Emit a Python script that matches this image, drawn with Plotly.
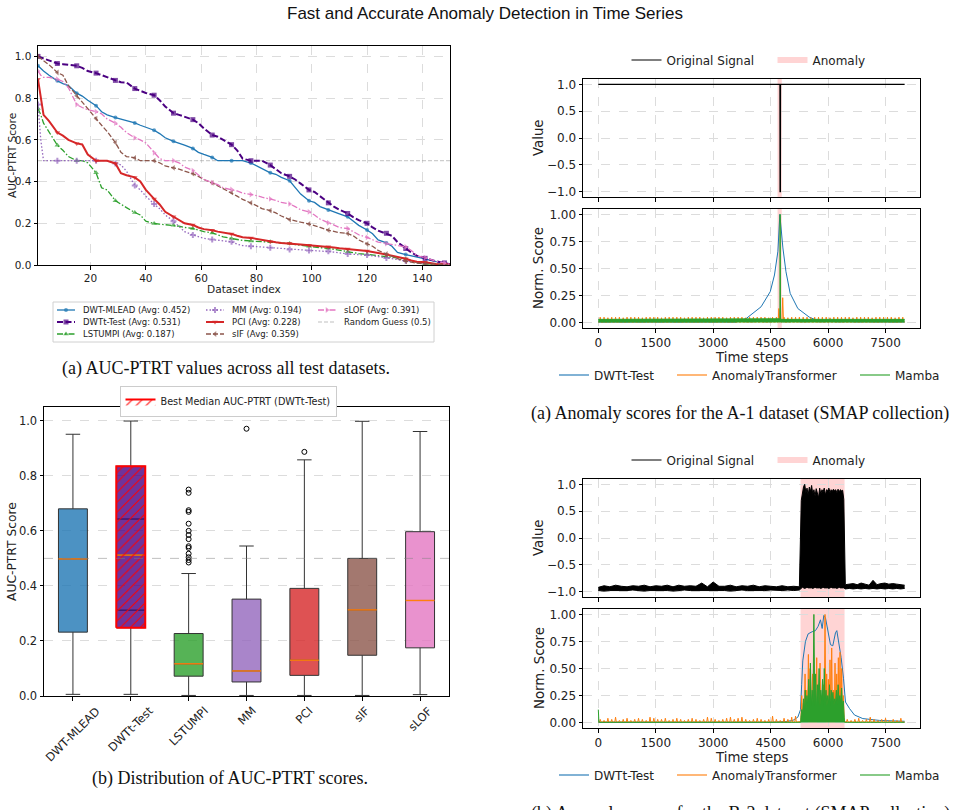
import numpy as np
import plotly.graph_objects as go

W, H = 954, 810
FONT = "DejaVu Sans"
SERIF = "Liberation Serif"


def fx(p):
    return p / W


def fy(p):
    return 1 - p / H


# ---------------------------------------------------------------- data (a) left
dataset_index = [1, 2, 3, 5, 8, 10, 12, 15, 17, 19, 22, 24, 26, 29, 31, 33, 36, 38, 40, 43, 45, 47,
                 50, 52, 54, 57, 59, 61, 64, 66, 68, 71, 73, 75, 78, 80, 82, 85, 87, 89, 92, 94, 96,
                 99, 101, 103, 106, 108, 110, 113, 115, 117, 120, 122, 124, 127, 129, 131, 134, 136,
                 138, 141, 143, 145, 148, 150]

auc_dwt_mlead = [0.955, 0.940, 0.930, 0.910,
                 0.883, 0.870, 0.860, 0.824, 0.810, 0.790, 0.764, 0.735, 0.720, 0.707, 0.700, 0.690,
                 0.681, 0.670, 0.660, 0.646, 0.630, 0.610, 0.593, 0.585, 0.575, 0.559, 0.540, 0.530,
                 0.516, 0.500, 0.500, 0.500, 0.500, 0.500, 0.489, 0.475, 0.460, 0.442, 0.435, 0.420,
                 0.404, 0.370, 0.340, 0.308, 0.300, 0.280, 0.264, 0.255, 0.245, 0.231, 0.210, 0.190,
                 0.168, 0.150, 0.120, 0.106, 0.090, 0.060, 0.050, 0.045, 0.040, 0.029, 0.022, 0.015,
                 0.008, 0.003]
auc_dwtt_test = [1.000, 0.995, 0.990, 0.980,
                 0.966, 0.963, 0.960, 0.955, 0.945, 0.930, 0.920, 0.910, 0.900, 0.885, 0.876, 0.875,
                 0.846, 0.835, 0.825, 0.814, 0.790, 0.760, 0.728, 0.720, 0.710, 0.697, 0.680, 0.655,
                 0.623, 0.615, 0.600, 0.577, 0.550, 0.510, 0.500, 0.500, 0.500, 0.479, 0.460, 0.440,
                 0.425, 0.410, 0.390, 0.360, 0.350, 0.330, 0.298, 0.280, 0.265, 0.247, 0.230, 0.215,
                 0.200, 0.180, 0.165, 0.152, 0.140, 0.110, 0.079, 0.060, 0.045, 0.032, 0.025, 0.018,
                 0.010, 0.003]
auc_lstumpi = [0.750, 0.720, 0.680, 0.640,
               0.574, 0.550, 0.520, 0.500, 0.500, 0.490, 0.442, 0.370, 0.360, 0.308, 0.290, 0.275,
               0.252, 0.240, 0.210, 0.199, 0.196, 0.194, 0.191, 0.186, 0.180, 0.175, 0.168, 0.160,
               0.154, 0.145, 0.135, 0.127, 0.122, 0.118, 0.115, 0.114, 0.113, 0.112, 0.108, 0.105,
               0.103, 0.098, 0.094, 0.090, 0.087, 0.083, 0.080, 0.075, 0.070, 0.064, 0.060, 0.055,
               0.051, 0.048, 0.044, 0.040, 0.036, 0.032, 0.029, 0.020, 0.012, 0.006, 0.004, 0.003,
               0.002, 0.001]
auc_mm = [0.770, 0.600, 0.500, 0.500,
          0.500, 0.500, 0.500, 0.500, 0.500, 0.500, 0.500, 0.500, 0.500, 0.487, 0.480, 0.450,
          0.381, 0.360, 0.330, 0.292, 0.270, 0.240, 0.210, 0.185, 0.160, 0.144, 0.135, 0.128,
          0.122, 0.118, 0.114, 0.111, 0.100, 0.093, 0.090, 0.088, 0.085, 0.083, 0.080, 0.077,
          0.074, 0.073, 0.072, 0.070, 0.069, 0.068, 0.066, 0.062, 0.058, 0.053, 0.051, 0.050,
          0.048, 0.044, 0.040, 0.034, 0.030, 0.025, 0.019, 0.015, 0.012, 0.010, 0.007, 0.005,
          0.003, 0.001]
auc_pci = [0.890, 0.800, 0.720, 0.690,
           0.635, 0.620, 0.600, 0.583, 0.578, 0.530, 0.500, 0.500, 0.500, 0.487, 0.440, 0.430,
           0.420, 0.400, 0.360, 0.317, 0.290, 0.255, 0.231, 0.215, 0.200, 0.192, 0.180, 0.172,
           0.167, 0.160, 0.155, 0.149, 0.140, 0.133, 0.130, 0.125, 0.118, 0.112, 0.109, 0.106,
           0.104, 0.101, 0.098, 0.095, 0.093, 0.090, 0.088, 0.084, 0.080, 0.077, 0.074, 0.070,
           0.067, 0.062, 0.056, 0.050, 0.045, 0.040, 0.030, 0.022, 0.016, 0.013, 0.008, 0.005,
           0.003, 0.001]
auc_sif = [1.000, 0.990, 0.980, 0.960,
           0.923, 0.910, 0.860, 0.811, 0.780, 0.750, 0.702, 0.670, 0.640, 0.587, 0.540, 0.520,
           0.514, 0.500, 0.500, 0.500, 0.490, 0.475, 0.466, 0.460, 0.450, 0.438, 0.425, 0.410,
           0.394, 0.380, 0.365, 0.348, 0.330, 0.315, 0.298, 0.285, 0.270, 0.261, 0.250, 0.235,
           0.218, 0.210, 0.205, 0.197, 0.190, 0.180, 0.167, 0.160, 0.155, 0.151, 0.140, 0.120,
           0.101, 0.090, 0.070, 0.053, 0.040, 0.030, 0.018, 0.012, 0.009, 0.006, 0.004, 0.003,
           0.002, 0.001]
auc_slof = [0.930, 0.910, 0.900, 0.900,
            0.891, 0.880, 0.850, 0.769, 0.755, 0.745, 0.735, 0.725, 0.700, 0.680, 0.660, 0.635,
            0.610, 0.600, 0.585, 0.538, 0.510, 0.500, 0.500, 0.490, 0.470, 0.453, 0.430, 0.410,
            0.395, 0.385, 0.370, 0.362, 0.355, 0.345, 0.338, 0.333, 0.325, 0.317, 0.310, 0.300,
            0.293, 0.280, 0.265, 0.255, 0.240, 0.220, 0.202, 0.190, 0.180, 0.175, 0.160, 0.145,
            0.132, 0.120, 0.110, 0.103, 0.098, 0.093, 0.087, 0.070, 0.045, 0.035, 0.025, 0.018,
            0.010, 0.003]

methods = ["DWT-MLEAD", "DWTt-Test", "LSTUMPI", "MM", "PCI", "sIF", "sLOF"]
avg_scores = [0.452, 0.531, 0.187, 0.194, 0.228, 0.359, 0.391]
random_guess = 0.5

# ---------------------------------------------------------------- data (b) left: box stats
box_q1 = [0.232, 0.248, 0.072, 0.051, 0.075, 0.148, 0.175]
box_median = [0.498, 0.512, 0.117, 0.091, 0.130, 0.313, 0.347]
box_q3 = [0.680, 0.835, 0.227, 0.352, 0.391, 0.500, 0.597]
box_low = [0.006, 0.006, 0.002, 0.002, 0.002, 0.002, 0.005]
box_high = [0.951, 0.999, 0.445, 0.545, 0.858, 0.998, 0.961]
outliers_lstumpi = [0.750, 0.738, 0.675, 0.669, 0.626, 0.600, 0.585, 0.570, 0.544, 0.538,
                    0.517, 0.504, 0.494, 0.485]
outliers_mm = [0.971]
outliers_pci = [0.887]
dwtt_inner_lines = [0.312, 0.643]
best_method = "DWTt-Test"

# ---------------------------------------------------------------- data right: A-1
a1_anomaly = [4680, 4790]
a1_signal_t = [0, 4745, 4748, 4752, 4755, 7999]
a1_signal_v = [1.0, 1.0, -1.0, -1.0, 1.0, 1.0]
a1_dwtt_t = [0, 3600, 3860, 4250, 4490, 4600, 4690, 4740, 4820, 4900, 5010, 5210, 5510, 5780, 7999]
a1_dwtt_v = [0.005, 0.005, 0.037, 0.146, 0.286, 0.44, 0.66, 1.0, 0.69, 0.47, 0.27, 0.13, 0.05, 0.01,
             0.005]
a1_at_base = 0.005
a1_at_spike_h = [0.05, 0.05, 0.045, 0.05, 0.05, 0.05, 0.045, 0.05, 0.05, 0.05,
                 0.05, 0.045, 0.05, 0.05, 0.05, 0.05, 0.045, 0.05, 0.05, 0.05,
                 0.05, 0.05, 0.045, 0.05, 0.05, 0.05, 0.05, 0.045, 0.05, 0.05,
                 0.05, 0.05, 0.05, 0.045, 0.05, 0.05, 0.05, 0.05, 0.045, 0.05,
                 0.05, 0.05, 0.05, 0.05, 0.045, 0.05, 0.05, 0.05, 0.05, 0.045,
                 0.05, 0.05, 0.05, 0.05, 0.05, 0.045, 0.05, 0.05, 0.05, 0.05,
                 0.045, 0.05, 0.05, 0.05, 0.05, 0.05, 0.045, 0.05, 0.05, 0.05,
                 0.05, 0.045, 0.05, 0.05, 0.05, 0.05, 0.05, 0.045, 0.05, 0.05]
a1_at_peak_t = [4715, 4815]
a1_at_peak_h = [0.13, 0.23]
a1_mamba_t = [0, 4735, 4741, 4747, 4753, 4759, 7999]
a1_mamba_v = [0.03, 0.03, 0.035, 1.0, 0.035, 0.03, 0.03]

# ---------------------------------------------------------------- data right: B-2
b2_anomaly = [5280, 6430]
b2_sig_pre_hi = [-0.92, -0.89, -0.91, -0.88, -0.90, -0.91, -0.89, -0.90, -0.88, -0.91, -0.89, -0.90,
                 -0.88, -0.91, -0.88, -0.90, -0.89, -0.90, -0.84, -0.91, -0.82, -0.90, -0.90, -0.88,
                 -0.91, -0.89, -0.90, -0.88, -0.91, -0.89, -0.90, -0.91, -0.89, -0.91, -0.90, -0.91]
b2_sig_pre_lo = [-0.98, -0.99, -0.98, -0.98, -0.99, -0.98, -0.97, -0.98, -0.99, -0.98, -0.98, -0.97,
                 -0.98, -0.99, -0.98, -0.97, -0.98, -0.98, -0.97, -0.98, -0.98, -0.97, -0.98, -0.99,
                 -0.98, -0.97, -0.98, -0.98, -0.99, -0.98, -0.97, -0.98, -0.98, -0.97, -0.98, -0.97]
b2_sig_mid_hi = [0.70, 0.88, 0.96, 1.00, 0.85, 0.93, 0.80, 0.95, 0.87, 0.98,
                 0.82, 0.90, 0.78, 0.92, 0.85, 0.75, 0.93, 0.82, 0.90, 0.86,
                 0.93, 0.80, 0.90, 0.88, 0.93, 0.85, 0.90, 0.87, 0.91, 0.88,
                 0.90, 0.84, 0.91, 0.86, 0.90, 0.88, 0.89, 0.72]
b2_sig_mid_lo = [-0.93, -0.92, -0.93, -0.94, -0.93, -0.92, -0.93, -0.93, -0.92, -0.93,
                 -0.94, -0.93, -0.92, -0.93, -0.93, -0.92, -0.93, -0.94, -0.93, -0.92,
                 -0.93, -0.93, -0.92, -0.93, -0.94, -0.93, -0.92, -0.93, -0.93, -0.92,
                 -0.93, -0.94, -0.93, -0.92, -0.93, -0.93, -0.92, -0.93]
b2_sig_post_hi = [-0.87, -0.86, -0.85, -0.87, -0.84, -0.86, -0.88, -0.79, -0.87, -0.85, -0.84,
                  -0.86, -0.85, -0.86, -0.87, -0.88]
b2_sig_post_lo = [-0.95, -0.94, -0.95, -0.94, -0.95, -0.94, -0.95, -0.94, -0.95, -0.94, -0.95,
                  -0.94, -0.95, -0.94, -0.95, -0.94]
b2_dwtt_t = [0, 4500, 4900, 5080, 5210, 5280, 5310, 5339, 5409, 5479, 5583, 5670, 5740, 5801, 5845,
             5888, 5931, 5992, 6062, 6123, 6193, 6228, 6280, 6341, 6402, 6454, 6559, 6690, 6907,
             7343, 7999]
b2_dwtt_v = [0.003, 0.003, 0.01, 0.02, 0.05, 0.12, 0.35, 0.57, 0.75, 0.82, 0.84, 0.85, 0.89, 0.95,
             0.87, 0.99, 0.97, 0.85, 0.72, 0.71, 0.83, 0.85, 0.75, 0.60, 0.41, 0.19, 0.13, 0.07,
             0.037, 0.02, 0.012]
b2_at_base = 0.005
b2_at_pre_h = [0.03, 0.02, 0.04, 0.03, 0.05, 0.02, 0.03, 0.04, 0.02, 0.03,
               0.04, 0.03, 0.02, 0.05, 0.04, 0.03, 0.03, 0.04, 0.02, 0.03,
               0.04, 0.03, 0.02, 0.03, 0.04, 0.03, 0.02, 0.03, 0.05, 0.04,
               0.03, 0.02, 0.03, 0.04, 0.05, 0.03, 0.04, 0.05, 0.03, 0.02,
               0.03, 0.04, 0.03, 0.02, 0.03, 0.06, 0.03, 0.02, 0.04, 0.03,
               0.05, 0.06]
b2_at_mid = [0.01, 0.25, 0.02, 0.18, 0.03, 0.45, 0.02, 0.30, 0.04, 0.63, 0.02, 0.50, 0.03, 0.20,
             0.45, 0.02, 0.30, 0.03, 0.22, 0.60, 0.02, 0.35, 0.04, 0.55, 0.03, 0.25, 0.02, 0.35,
             0.03, 1.00, 0.02, 0.45, 0.03, 0.40, 0.04, 0.58, 0.02, 0.69, 0.03, 0.30, 0.04, 0.55,
             0.02, 0.45, 0.03, 0.60, 0.04, 0.65, 0.03, 0.50, 0.02, 0.25, 0.01]
b2_at_post_h = [0.03, 0.02, 0.03, 0.04, 0.02, 0.03, 0.05, 0.03, 0.02, 0.03, 0.04, 0.02, 0.03, 0.02,
                0.04]
b2_mamba_pre_t = [0, 15, 40, 5285]
b2_mamba_pre_v = [0.12, 0.01, 0.003, 0.003]
b2_mamba_mid = [0.05, 0.12, 0.08, 0.22, 0.10, 0.30, 0.12, 0.25, 0.15, 0.40, 0.12, 0.55, 0.15, 0.30,
                0.18, 1.00, 0.15, 0.45, 0.12, 0.35, 0.18, 0.50, 0.15, 0.30, 0.20, 0.40, 0.14, 0.50,
                0.18, 0.30, 0.15, 0.25, 0.18, 0.35, 0.15, 0.30, 0.20, 0.28, 0.15, 0.22, 0.18, 0.30,
                0.16, 0.35, 0.20, 0.25, 0.18, 0.32, 0.15, 0.20, 0.05]
b2_mamba_post_t = [6430, 7999]
b2_mamba_post_v = [0.003, 0.003]

time_ticks = [0, 1500, 3000, 4500, 6000, 7500]

curves = [auc_dwt_mlead, auc_dwtt_test, auc_lstumpi, auc_mm, auc_pci, auc_sif, auc_slof]
for c in curves:
    assert len(c) == len(dataset_index)

# ---------------------------------------------------------------- styles
curve_style = [
    dict(color="#1f77b4", dash="solid", width=1.3, symbol="circle", size=4),
    dict(color="#4b0082", dash="6px,2.5px", width=2.0, symbol="square", size=5),
    dict(color="#2ca02c", dash="6px,2px,1.5px,2px", width=1.3, symbol="triangle-up", size=5),
    dict(color="#9467bd", dash="1.5px,2px", width=1.3, symbol="cross", size=5),
    dict(color="#d62728", dash="solid", width=2.0, symbol="triangle-down", size=5),
    dict(color="#8c564b", dash="5px,2px", width=1.3, symbol="triangle-left", size=5),
    dict(color="#e377c2", dash="6px,2px,1.5px,2px", width=1.3, symbol="triangle-right", size=5),
]
rg_style = dict(color="rgba(140,140,140,0.55)", dash="4px,2px", width=1.0, symbol="circle", size=0)
box_fill = ["rgba(31,119,180,0.8)", "rgba(75,0,130,0.8)", "rgba(44,160,44,0.8)",
            "rgba(148,103,189,0.8)", "rgba(214,39,40,0.8)", "rgba(140,86,75,0.8)",
            "rgba(227,119,194,0.8)"]
PINK = "rgba(255,0,0,0.17)"
C_BLUE, C_ORANGE, C_GREEN = "#1f77b4", "#ff7f0e", "#2ca02c"

fig = go.Figure()
annotations = []
shapes = []

# ---------------------------------------------------------------- panel (a) left
fig.add_trace(go.Scatter(x=[dataset_index[0], dataset_index[-1]], y=[random_guess, random_guess],
                         mode="lines", line=dict(color=rg_style["color"], width=1, dash="4px,2px"),
                         xaxis="x", yaxis="y", showlegend=False, hoverinfo="skip"))
for vals, st in zip(curves, curve_style):
    sizes = [st["size"] if (i - 1) % 7 == 0 else 0 for i in dataset_index]
    fig.add_trace(go.Scatter(x=dataset_index, y=vals, mode="lines+markers",
                             line=dict(color=st["color"], width=st["width"], dash=st["dash"]),
                             marker=dict(symbol=st["symbol"], size=sizes, color=st["color"],
                                         line=dict(width=0)),
                             xaxis="x", yaxis="y", showlegend=False, hoverinfo="skip"))

# manual legend (3 columns) on a pixel-space overlay axis
leg_cols = [57, 206, 318]
leg_rows = [310, 322, 334]
sym_len = 18
entries = [(f"{m} (Avg: {a:.3f})", st) for m, a, st in zip(methods, avg_scores, curve_style)]
entries.append((f"Random Guess ({random_guess})", rg_style))
shapes.append(dict(type="rect", xref="paper", yref="paper", x0=fx(53), x1=fx(434), y0=fy(342),
                   y1=fy(302), line=dict(color="#d0d0d0", width=1), fillcolor="white",
                   layer="below"))
for k, (label, st) in enumerate(entries):
    col, row = divmod(k, 3)
    x0 = leg_cols[col]
    yc = leg_rows[row]
    fig.add_trace(go.Scatter(x=[x0, x0 + sym_len / 2, x0 + sym_len], y=[yc, yc, yc],
                             mode="lines+markers",
                             line=dict(color=st["color"], width=st["width"], dash=st["dash"]),
                             marker=dict(symbol=st["symbol"], size=[0, st["size"], 0],
                                         color=st["color"], line=dict(width=0)),
                             xaxis="x7", yaxis="y7", showlegend=False, hoverinfo="skip"))
    annotations.append(dict(x=fx(x0 + sym_len + 6), y=fy(yc), xref="paper", yref="paper",
                            text=label, showarrow=False, xanchor="left", yanchor="middle",
                            font=dict(family=FONT, size=8.5, color="#222")))

# ---------------------------------------------------------------- panel (b) left: boxes
for i in range(len(methods)):
    fig.add_trace(go.Box(x=[i], q1=[box_q1[i]], median=[box_median[i]], q3=[box_q3[i]],
                         lowerfence=[box_low[i]], upperfence=[box_high[i]], width=0.5,
                         fillcolor=box_fill[i], line=dict(color="#333333", width=1),
                         whiskerwidth=0.5, boxpoints=False, xaxis="x2", yaxis="y2",
                         showlegend=False, hoverinfo="skip"))
for i in range(len(methods)):
    fig.add_trace(go.Scatter(x=[i - 0.25, i + 0.25], y=[box_median[i], box_median[i]],
                             mode="lines", line=dict(color=C_ORANGE, width=1.4),
                             xaxis="x2", yaxis="y2", showlegend=False, hoverinfo="skip"))
bi = methods.index(best_method)
for v in dwtt_inner_lines:
    fig.add_trace(go.Scatter(x=[bi - 0.25, bi + 0.25], y=[v, v], mode="lines",
                             line=dict(color="#2a0a5a", width=1),
                             xaxis="x2", yaxis="y2", showlegend=False, hoverinfo="skip"))
fig.add_trace(go.Scatter(x=[bi - 0.25, bi + 0.25, bi + 0.25, bi - 0.25, bi - 0.25],
                         y=[box_q1[bi], box_q1[bi], box_q3[bi], box_q3[bi], box_q1[bi]],
                         mode="lines", fill="toself", fillcolor="rgba(0,0,0,0)",
                         fillpattern=dict(shape="/", fgcolor="red", size=7, solidity=0.15),
                         line=dict(color="red", width=2),
                         name=f"Best Median AUC-PTRT ({best_method})", legend="legend2",
                         xaxis="x2", yaxis="y2", showlegend=True, hoverinfo="skip"))
for idx, outs in [(2, outliers_lstumpi), (3, outliers_mm), (4, outliers_pci)]:
    fig.add_trace(go.Scatter(x=[idx] * len(outs), y=outs, mode="markers",
                             marker=dict(symbol="circle-open", size=5, color="black",
                                         line=dict(width=1)),
                             xaxis="x2", yaxis="y2", showlegend=False, hoverinfo="skip"))
shapes.append(dict(type="line", xref="x2 domain", yref="y2", x0=0, x1=1, y0=random_guess,
                   y1=random_guess, line=dict(color="rgba(128,128,128,0.5)", width=1, dash="dash")))
# rotated category labels centred under each tick (matplotlib ha='center')
for i, m in enumerate(methods):
    annotations.append(dict(x=i, y=fy(701), xref="x2", yref="paper", text=m, showarrow=False,
                            textangle=-45, xanchor="center", yanchor="top",
                            font=dict(family=FONT, size=11.5, color="#222")))


# ---------------------------------------------------------------- right panels
def spikes(ts, hs, base, half=20):
    xs, ys = [], []
    for t, h in sorted(zip(ts, hs)):
        xs += [t - half, t, t + half]
        ys += [base, h, base]
    return xs, ys


def add_legend_dummies(top_leg, bot_leg, xa, ya):
    fig.add_trace(go.Scatter(x=[None], y=[None], mode="lines", line=dict(color="black", width=1.2),
                             name="Original Signal", legend=top_leg, legendwidth=101,
                             xaxis=xa, yaxis=ya))
    fig.add_trace(go.Scatter(x=[None], y=[None], mode="none", fill="toself", fillcolor=PINK,
                             name="Anomaly", legend=top_leg, legendwidth=58, xaxis=xa, yaxis=ya))
    for nm, col, lw in [("DWTt-Test", C_BLUE, 73), ("AnomalyTransformer", C_ORANGE, 138),
                        ("Mamba", C_GREEN, 48)]:
        fig.add_trace(go.Scatter(x=[None], y=[None], mode="lines", line=dict(color=col, width=1.5),
                                 opacity=0.75, name=nm, legend=bot_leg, legendwidth=lw,
                                 xaxis=xa, yaxis=ya))


# A-1
for xa, ya in [("x3", "y3"), ("x4", "y4")]:
    shapes.append(dict(type="rect", xref=xa, yref=ya + " domain", x0=a1_anomaly[0],
                       x1=a1_anomaly[1], y0=0, y1=1, fillcolor=PINK, line=dict(width=0),
                       layer="below"))
fig.add_trace(go.Scatter(x=a1_signal_t, y=a1_signal_v, mode="lines",
                         line=dict(color="black", width=1.4), xaxis="x3", yaxis="y3",
                         showlegend=False, hoverinfo="skip"))
fig.add_trace(go.Scatter(x=a1_dwtt_t, y=a1_dwtt_v, mode="lines", line=dict(color=C_BLUE, width=1),
                         xaxis="x4", yaxis="y4", showlegend=False, hoverinfo="skip"))
sx, sy = spikes([50 + 100 * i for i in range(len(a1_at_spike_h))] + a1_at_peak_t,
                a1_at_spike_h + a1_at_peak_h, a1_at_base)
fig.add_trace(go.Scatter(x=[0] + sx + [7999], y=[a1_at_base] + sy + [a1_at_base], mode="lines",
                         line=dict(color=C_ORANGE, width=1, simplify=False),
                         xaxis="x4", yaxis="y4", showlegend=False, hoverinfo="skip"))
fig.add_trace(go.Scatter(x=a1_mamba_t, y=a1_mamba_v, mode="lines", fill="tozeroy",
                         fillcolor=C_GREEN, line=dict(color=C_GREEN, width=1),
                         xaxis="x4", yaxis="y4", showlegend=False, hoverinfo="skip"))
add_legend_dummies("legend3", "legend4", "x3", "y3")

# B-2
for xa, ya in [("x5", "y5"), ("x6", "y6")]:
    shapes.append(dict(type="rect", xref=xa, yref=ya + " domain", x0=b2_anomaly[0],
                       x1=b2_anomaly[1], y0=0, y1=1, fillcolor=PINK, line=dict(width=0),
                       layer="below"))
assert len(b2_sig_pre_hi) == len(b2_sig_pre_lo)
assert len(b2_sig_mid_hi) == len(b2_sig_mid_lo)
assert len(b2_sig_post_hi) == len(b2_sig_post_lo)
sig_t = (list(np.linspace(0, 5250, len(b2_sig_pre_hi))) +
         list(np.linspace(5300, 6410, len(b2_sig_mid_hi))) +
         list(np.linspace(6450, 7999, len(b2_sig_post_hi))))
sig_hi = b2_sig_pre_hi + b2_sig_mid_hi + b2_sig_post_hi
sig_lo = b2_sig_pre_lo + b2_sig_mid_lo + b2_sig_post_lo
fig.add_trace(go.Scatter(x=sig_t, y=sig_lo, mode="lines", line=dict(color="black", width=1),
                         xaxis="x5", yaxis="y5", showlegend=False, hoverinfo="skip"))
fig.add_trace(go.Scatter(x=sig_t, y=sig_hi, mode="lines", fill="tonexty", fillcolor="black",
                         line=dict(color="black", width=1), xaxis="x5", yaxis="y5",
                         showlegend=False, hoverinfo="skip"))
fig.add_trace(go.Scatter(x=b2_dwtt_t, y=b2_dwtt_v, mode="lines", line=dict(color=C_BLUE, width=1),
                         xaxis="x6", yaxis="y6", showlegend=False, hoverinfo="skip"))
px_, py_ = spikes([50 + 100 * i for i in range(len(b2_at_pre_h))], b2_at_pre_h, b2_at_base)
qx_, qy_ = spikes([6500 + 100 * i for i in range(len(b2_at_post_h))], b2_at_post_h, b2_at_base)
mid_t = list(np.linspace(5290, 6420, len(b2_at_mid)))
fig.add_trace(go.Scatter(x=[0] + px_ + mid_t + qx_ + [7999],
                         y=[b2_at_base] + py_ + b2_at_mid + qy_ + [b2_at_base], mode="lines",
                         line=dict(color=C_ORANGE, width=1, simplify=False),
                         xaxis="x6", yaxis="y6", showlegend=False, hoverinfo="skip"))
mm_t = list(np.linspace(5290, 6420, len(b2_mamba_mid)))
fig.add_trace(go.Scatter(x=b2_mamba_pre_t + mm_t + b2_mamba_post_t,
                         y=b2_mamba_pre_v + b2_mamba_mid + b2_mamba_post_v, mode="lines",
                         fill="tozeroy", fillcolor=C_GREEN,
                         line=dict(color=C_GREEN, width=1, simplify=False),
                         xaxis="x6", yaxis="y6", showlegend=False, hoverinfo="skip"))
add_legend_dummies("legend5", "legend6", "x5", "y5")


# ---------------------------------------------------------------- axes
def ax(**kw):
    d = dict(showline=True, linecolor="black", linewidth=1, mirror=True, ticks="outside",
             ticklen=3.5, tickwidth=1, tickcolor="black", showgrid=True, gridcolor="#dcdcdc",
             griddash="dash", gridwidth=0.8, zeroline=False,
             tickfont=dict(family=FONT, size=12, color="#222"))
    d.update(kw)
    return d


rx = [fx(583), fx(920)]
layout_axes = dict(
    xaxis=ax(domain=[fx(38), fx(450)], range=[1, 150], tickvals=[20, 40, 60, 80, 100, 120, 140],
             anchor="y", tickfont=dict(family=FONT, size=10.5, color="#222")),
    yaxis=ax(domain=[fy(265), fy(46)], range=[0, 1.05], tickvals=[0, 0.2, 0.4, 0.6, 0.8, 1.0],
             tickformat=".1f", anchor="x", tickfont=dict(family=FONT, size=10.5, color="#222")),
    xaxis2=ax(domain=[fx(44), fx(449)], range=[-0.5, 6.5], tickvals=list(range(len(methods))),
              showticklabels=False, showgrid=False, anchor="y2"),
    yaxis2=ax(domain=[fy(696), fy(407)], range=[0, 1.05], tickvals=[0, 0.2, 0.4, 0.6, 0.8, 1.0],
              tickformat=".1f", anchor="x2", tickfont=dict(family=FONT, size=11.5, color="#222")),
    xaxis3=ax(domain=rx, range=[-400, 8400], tickvals=time_ticks, showticklabels=False,
              anchor="y3"),
    yaxis3=ax(domain=[fy(197), fy(79)], range=[-1.1, 1.1], tickvals=[-1, -0.5, 0, 0.5, 1],
              tickformat=".1f", anchor="x3"),
    xaxis4=ax(domain=rx, range=[-400, 8400], tickvals=time_ticks, anchor="y4"),
    yaxis4=ax(domain=[fy(328), fy(209)], range=[-0.05, 1.05], tickvals=[0, 0.25, 0.5, 0.75, 1],
              tickformat=".2f", anchor="x4"),
    xaxis5=ax(domain=rx, range=[-400, 8400], tickvals=time_ticks, showticklabels=False,
              anchor="y5"),
    yaxis5=ax(domain=[fy(597), fy(479)], range=[-1.1, 1.1], tickvals=[-1, -0.5, 0, 0.5, 1],
              tickformat=".1f", anchor="x5"),
    xaxis6=ax(domain=rx, range=[-400, 8400], tickvals=time_ticks, anchor="y6"),
    yaxis6=ax(domain=[fy(728), fy(609)], range=[-0.05, 1.05], tickvals=[0, 0.25, 0.5, 0.75, 1],
              tickformat=".2f", anchor="x6"),
    xaxis7=dict(domain=[0, 1], range=[0, W], visible=False, anchor="y7", fixedrange=True),
    yaxis7=dict(domain=[0, 1], range=[H, 0], visible=False, anchor="x7", fixedrange=True),
)


def txt(x, y, s, size, family=FONT, angle=0, color="#222"):
    annotations.append(dict(x=fx(x), y=fy(y), xref="paper", yref="paper", text=s,
                            showarrow=False, xanchor="center", yanchor="middle",
                            textangle=angle, font=dict(family=family, size=size, color=color)))


txt(485, 14, "Fast and Accurate Anomaly Detection in Time Series", 17, "Liberation Sans", color="#111")
txt(244, 289, "Dataset index", 10.6)
txt(12, 156, "AUC-PTRT Score", 10.6, angle=-90)
txt(226, 369, "(a) AUC-PTRT values across all test datasets.", 18, SERIF, color="#111")
txt(12, 552, "AUC-PTRT Score", 12.3, angle=-90)
txt(230, 778, "(b) Distribution of AUC-PTRT scores.", 18, SERIF, color="#111")
for off in [0, 400]:
    txt(538, 138 + off, "Value", 13.3, angle=-90)
    txt(539, 268 + off, "Norm. Score", 13.3, angle=-90)
    txt(752, 357 + off, "Time steps", 13.3)
txt(740, 413, "(a) Anomaly scores for the A-1 dataset (SMAP collection)", 18, SERIF, color="#111")
txt(740, 813, "(b) Anomaly scores for the B-2 dataset (SMAP collection)", 18, SERIF, color="#111")

hleg = dict(orientation="h", xanchor="center", yanchor="middle", bgcolor="rgba(0,0,0,0)",
            font=dict(family=FONT, size=12, color="#222"), borderwidth=0)
fig.update_layout(
    width=W, height=H, margin=dict(l=0, r=0, t=0, b=0), autosize=False,
    template="none", paper_bgcolor="white", plot_bgcolor="rgba(0,0,0,0)",
    showlegend=True,
    legend2=dict(x=fx(228), y=fy(386), xanchor="center", yanchor="top", orientation="h",
                 bgcolor="white", bordercolor="#cccccc", borderwidth=1,
                 font=dict(family=FONT, size=9.7, color="#222")),
    legend3=dict(hleg, x=fx(751), y=fy(60)),
    legend4=dict(hleg, x=fx(751), y=fy(375)),
    legend5=dict(hleg, x=fx(751), y=fy(460)),
    legend6=dict(hleg, x=fx(751), y=fy(775)),
    annotations=annotations, shapes=shapes,
    **layout_axes,
)

fig.write_html("out.html")
